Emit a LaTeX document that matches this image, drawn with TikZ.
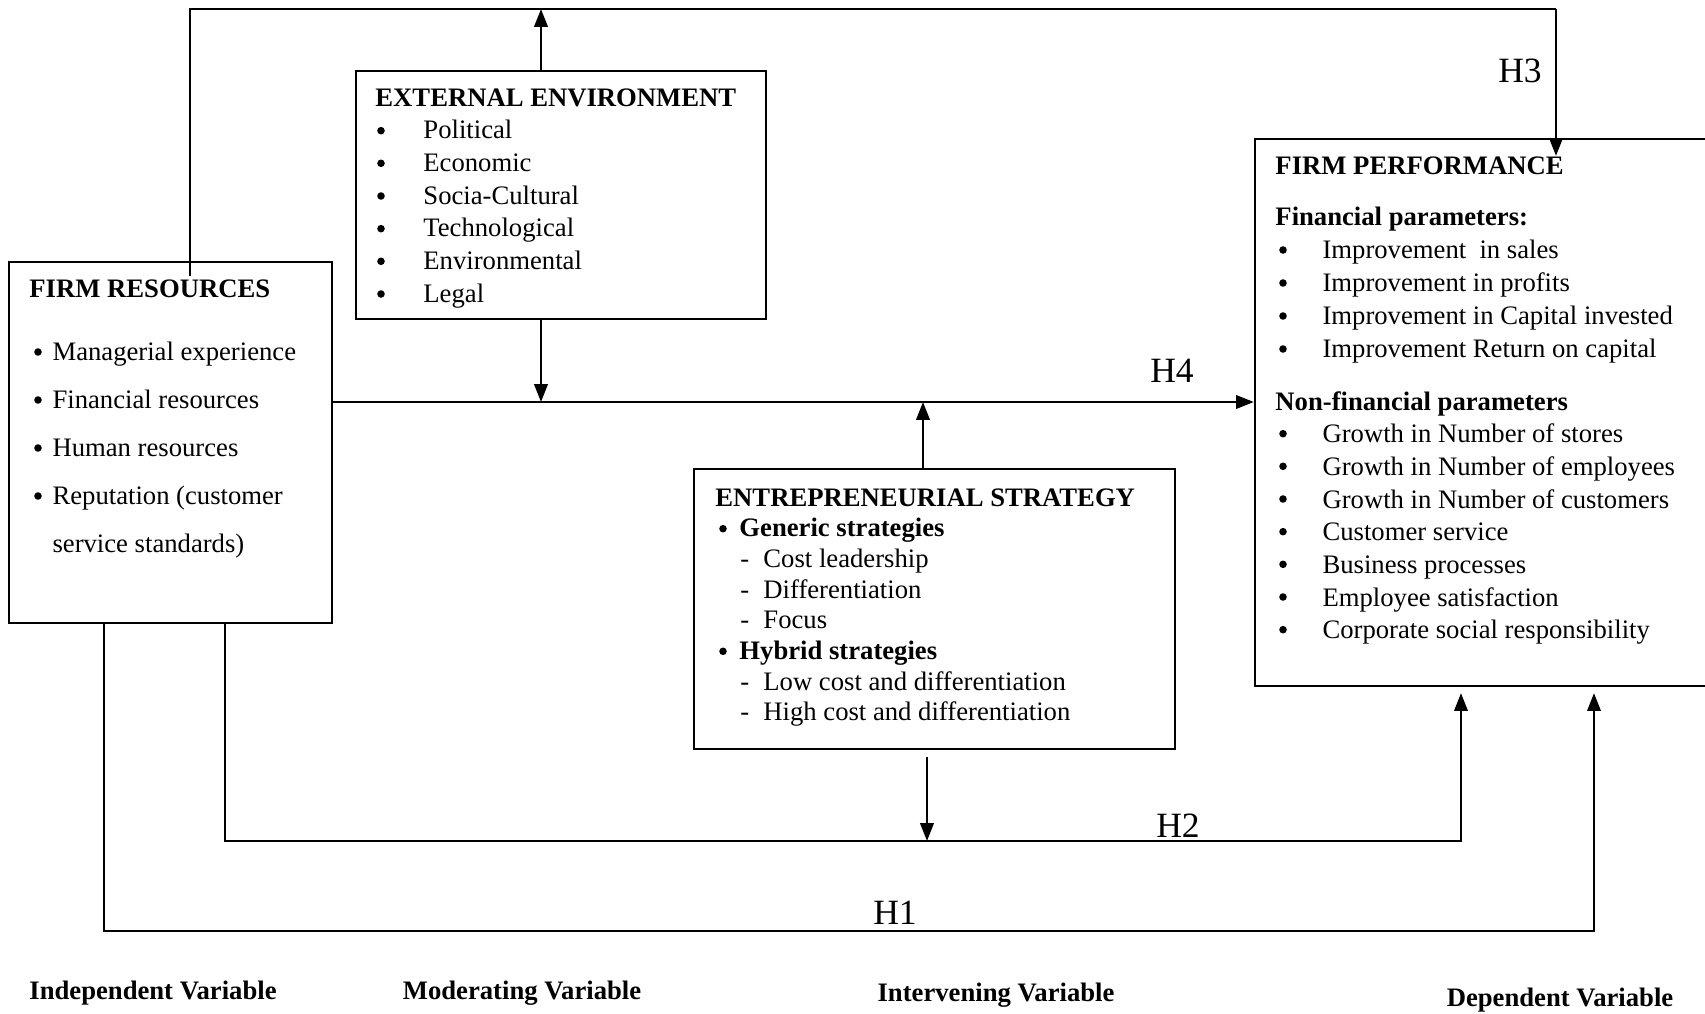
\documentclass[tikz,border=0pt]{standalone}
\usepackage{fontspec}
\setmainfont{Liberation Serif}
\usetikzlibrary{arrows.meta, positioning, calc, fit}

% list indents (bullets are drawn as dots below)
\newcommand{\extitem}[1]{\hspace*{21.6pt}#1}
\newcommand{\fritem}[1]{\hspace*{8.6pt}#1}
\newcommand{\fpitem}[1]{\hspace*{21.2pt}#1}
\newcommand{\esitem}[1]{\hspace*{10.8pt}\textbf{#1}}
\newcommand{\esdash}[1]{\hspace*{11.2pt}\makebox[10.4pt][l]{-}#1}

\tikzset{
  box/.style={draw, line width=1pt, inner sep=0pt},
  link/.style={line width=1.1pt},
  arr/.style={line width=1.1pt, -{Triangle[length=8pt,width=6pt]}},
  txt/.style={anchor=north west, inner sep=0pt, align=left},
  dot/.style={fill=black},
  hlabel/.style={font=\fontsize{16}{19}\selectfont},
  varlabel/.style={font=\bfseries\fontsize{12}{14}\selectfont}
}

\begin{document}
\begin{tikzpicture}[x=0.45pt, y=-0.45pt]
  \useasboundingbox (0,0) rectangle (1705,1014);

  % Boxes
  \node[box, fit={(9,262) (332,623)}] (fr) {};
  \node[box, fit={(356,71) (766,319)}] (ext) {};
  \node[box, fit={(694,469) (1175,749)}] (es) {};
  \node[box, fit={(1255,139) (1712,686)}] (fp) {};

  % Firm resources
  \node[txt, font=\fontsize{12}{14}\selectfont\bfseries] (frtitle) at (29,279) {FIRM RESOURCES};
  \node[txt, font=\fontsize{12}{21.6}\selectfont] (frlist) at (33,342)
    {\fritem{Managerial experience}\\ \fritem{Financial resources}\\
     \fritem{Human resources}\\ \fritem{Reputation (customer}\\
     \fritem{service standards)}};
  \foreach \y in {351,399,447,495}
    \fill[dot] (38,\y+1) circle (1.7pt);

  % External environment
  \node[txt, font=\fontsize{12}{14.7}\selectfont] (extlist) at (375,88)
    {\textbf{EXTERNAL ENVIRONMENT}\\ \extitem{Political}\\ \extitem{Economic}\\
     \extitem{Socia-Cultural}\\ \extitem{Technological}\\ \extitem{Environmental}\\
     \extitem{Legal}};
  \foreach \y in {129.7,162.3,195,227.7,260.3,293}
    \fill[dot] (381,\y+1) circle (1.7pt);

  % Entrepreneurial strategy
  \node[txt, font=\fontsize{12}{13.8}\selectfont] (eslist) at (715,488)
    {\textbf{ENTREPRENEURIAL STRATEGY}\\ \esitem{Generic strategies}\\
     \esdash{Cost leadership}\\ \esdash{Differentiation}\\ \esdash{Focus}\\
     \esitem{Hybrid strategies}\\ \esdash{Low cost and differentiation}\\
     \esdash{High cost and differentiation}};
  \foreach \y in {527.7,650.3}
    \fill[dot] (723,\y+1) circle (1.7pt);

  % Firm performance
  \node[txt, font=\fontsize{12}{14}\selectfont\bfseries] (fptitle) at (1275,156) {FIRM PERFORMANCE};
  \node[txt, font=\fontsize{12}{14.85}\selectfont] (fplist) at (1275,207)
    {\textbf{Financial parameters:}\\ \fpitem{Improvement\ \ in sales}\\
     \fpitem{Improvement in profits}\\ \fpitem{Improvement in Capital invested}\\
     \fpitem{Improvement Return on capital}};
  \node[txt, font=\fontsize{12}{14.7}\selectfont] (nflist) at (1275,391)
    {\textbf{Non-financial parameters}\\ \fpitem{Growth in Number of stores}\\
     \fpitem{Growth in Number of employees}\\ \fpitem{Growth in Number of customers}\\
     \fpitem{Customer service}\\ \fpitem{Business processes}\\
     \fpitem{Employee satisfaction}\\ \fpitem{Corporate social responsibility}};
  \foreach \y in {249,282,315,348,432.7,465.3,498,530.7,563.3,596,628.7}
    \fill[dot] (1283,\y+1) circle (1.7pt);

  % Bend points
  \coordinate (topL) at (190,9);
  \coordinate (topR) at (1556,9);
  \coordinate (h4a) at (541,402);
  \coordinate (h4b) at (923,402);
  \coordinate (h2m) at (927,841);
  \coordinate (h2l) at (225,841);
  \coordinate (h2r) at (1461,841);
  \coordinate (h1l) at (104,931);
  \coordinate (h1r) at (1594,931);

  % H3
  \draw[link] ($(topL |- fr.north)+(0,15)$) -- (topL) -- (topR);
  \draw[arr] (topR) -- ($(topR |- fp.north)+(0,18)$);
  \draw[arr] (ext.north -| h4a) -- (h4a |- topL);

  % H4
  \draw[arr] (ext.south -| h4a) -- (h4a);
  \draw[arr] (fr.east |- h4a) -- (fp.west |- h4a);
  \draw[arr] (es.north -| h4b) -- (h4b);

  % H2
  \draw[arr, shorten <=3pt] (es.south -| h2m) -- (h2m);
  \draw[arr, shorten >=2.7pt] (fr.south -| h2l) -- (h2l) -- (h2r) -- (fp.south -| h2r);

  % H1
  \draw[arr, shorten >=2.7pt] (fr.south -| h1l) -- (h1l) -- (h1r) -- (fp.south -| h1r);

  % Hypothesis labels
  \node[hlabel] (h3lab) at (1520,71) {H3};
  \node[hlabel] (h4lab) at (1172,371) {H4};
  \node[hlabel] (h2lab) at (1178,826) {H2};
  \node[hlabel] (h1lab) at (895,913) {H1};

  % Variable types
  \node[varlabel] (indep) at (153,993) {Independent Variable};
  \node[varlabel] (moder) at (522,993) {Moderating Variable};
  \node[varlabel] (inter) at (996,995) {Intervening Variable};
  \node[varlabel] (depen) at (1560,1000) {Dependent Variable};
\end{tikzpicture}
\end{document}
